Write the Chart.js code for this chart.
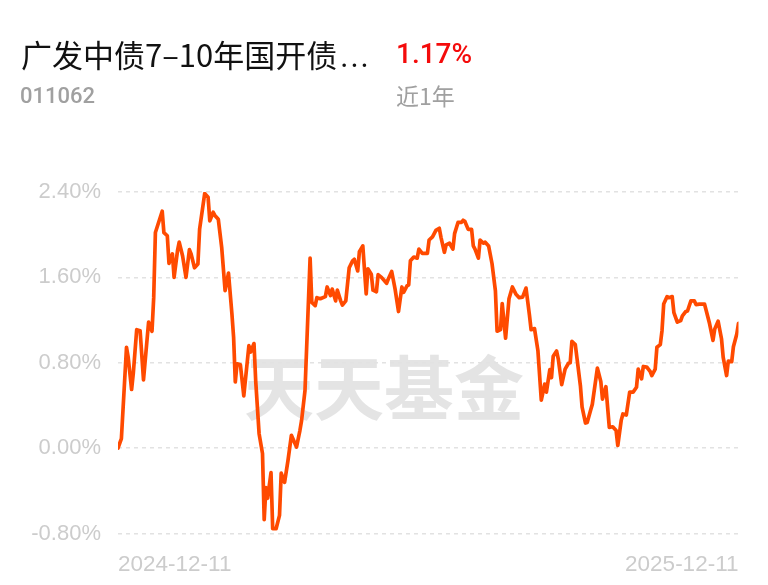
<!DOCTYPE html>
<html>
<head>
<meta charset="utf-8">
<script src="https://cdn.jsdelivr.net/npm/chart.js@4"></script>
<style>
  html, body { margin: 0; padding: 0; background: #fff; }
  body { width: 768px; height: 585px; position: relative; overflow: hidden; font-family: "Noto Sans CJK SC", "Noto Sans", sans-serif; }
  #wm { position: absolute; left: 244px; top: 350px; font-size: 70px; font-weight: 700; color: #e4e4e4; z-index: 0; line-height: 1; font-family: "Noto Sans CJK SC", sans-serif; white-space: nowrap; }
  #wrap { position: absolute; left: 0; top: 0; width: 768px; height: 585px; z-index: 1; }
  .t { position: absolute; white-space: nowrap; line-height: 1; z-index: 2; }
  #name { left: 21px; top: 38px; font-size: 31px; color: #111; }
  #name .dots { margin-left: 3px; letter-spacing: 2px; font-family: "Roboto", sans-serif; }
  #ret { left: 396px; top: 40px; font-size: 28px; font-weight: 500; color: #f40b0b; font-family: "Roboto", "Noto Sans", sans-serif; }
  #code { left: 20px; top: 85px; font-size: 22px; font-weight: 500; color: #a0a0a0; font-family: "Roboto", "Noto Sans", sans-serif; }
  #per { left: 396px; top: 84px; font-size: 23px; color: #a0a0a0; }
</style>
</head>
<body>
<div id="wm">天天基金</div>
<div class="t" id="name">广发中债7–10年国开债<span class="dots">...</span></div>
<div class="t" id="ret">1.17%</div>
<div class="t" id="code">011062</div>
<div class="t" id="per">近1年</div>
<div id="wrap"><canvas id="c" width="768" height="585"></canvas></div>
<script>
// day offsets from 2024-12-11
const days = [0,2,5,6,8,9,11,13,15,18,20,21,22,26,27,29,30,32,33,35,36,38,40,42,43,45,47,48,51,53,54,56,57,59,61,63,65,67,68,69,70,72,74,77,78,80,81,83,85,86,87,88,90,91,93,95,96,98,100,102,105,107,108,110,113,114,116,117,
119,122,123,125,126,128,129,131,132,134,136,138,139,141,142,144,146,147,149,150,152,153,155,158,159,161,163,165,167,168,170,171,172,174,176,177,179,181,182,183,185,187,189,190,192,193,195,197,198,200,202,203,204,206,208,209,210,212,213,215,216,218,220,222,223,225,226,228,230,232,234,236,238,240,242,243,245,247,249,251,252,254,255,256,258,259,261,263,265,266,267,269,272,273,275,276,278,279,282,284,285,287,289,291,293,294,296,297,299,301,303,305,306,308,309,311,313,314,316,317,319,320,321,323,324,326,327,329,331,332,334,335,337,339,340,342,343,345,346,348,350,351,353,355,356,358,359,361,362,364,365];
// cumulative return (%)
const returns = [0.00,0.09,0.945,0.85,0.55,0.70,1.11,1.10,0.64,1.18,1.095,1.41,2.02,2.22,2.02,1.99,1.73,1.82,1.60,1.85,1.93,1.80,1.60,1.86,1.82,1.69,1.725,2.05,2.385,2.35,2.13,2.21,2.18,2.145,1.88,1.475,1.64,1.26,1.04,0.62,0.79,0.78,0.49,0.96,0.90,0.98,0.63,0.135,-0.05,-0.67,-0.37,-0.47,-0.23,-0.755,-0.755,-0.63,-0.235,-0.32,-0.115,0.12,0.01,0.165,0.26,0.54,1.78,1.365,1.335,1.41,
1.40,1.42,1.51,1.43,1.49,1.38,1.48,1.38,1.34,1.38,1.69,1.755,1.77,1.66,1.84,1.895,1.445,1.68,1.63,1.48,1.465,1.625,1.60,1.545,1.585,1.655,1.49,1.28,1.51,1.46,1.52,1.53,1.755,1.79,1.78,1.865,1.825,1.825,1.825,1.95,1.98,2.04,2.06,1.975,1.835,1.905,1.92,1.865,2.01,2.115,2.115,2.135,2.125,2.05,2.05,1.895,1.865,1.78,1.95,1.92,1.93,1.895,1.73,1.475,1.095,1.11,1.355,1.03,1.40,1.51,1.445,1.41,1.415,1.50,1.25,1.11,1.12,0.915,0.45,0.60,0.525,0.735,0.66,0.86,0.91,0.835,0.595,0.74,0.795,0.80,1.00,0.97,0.585,0.385,0.235,0.24,0.355,0.41,0.75,0.625,0.46,0.575,0.195,0.20,0.165,0.025,0.26,0.32,0.31,0.525,0.525,0.57,0.74,0.65,0.765,0.76,0.72,0.68,0.74,0.945,0.97,1.10,1.35,1.42,1.41,1.42,1.27,1.18,1.195,1.24,1.28,1.285,1.38,1.38,1.345,1.35,1.35,1.35,1.29,1.165,1.01,1.115,1.19,1.025,0.85,0.68,0.815,0.81,0.95,1.07,1.17];
const xTickLabels = ['2024-12-11', '2025-12-11'];
const xTickDays = [0, 365];
const yTicks = [-0.8, 0, 0.8, 1.6, 2.4];

const points = days.map((d, i) => ({ x: d, y: returns[i] }));

new Chart(document.getElementById('c'), {
  type: 'line',
  data: {
    datasets: [{
      data: points,
      borderColor: '#ff4a00',
      borderWidth: 3.7,
      pointRadius: 0,
      tension: 0,
      fill: false,
      borderJoinStyle: 'round',
      borderCapStyle: 'round'
    }]
  },
  options: {
    responsive: false,
    animation: false,
    events: [],
    layout: { padding: { left: 0, right: 29.5, top: 192, bottom: 0 } },
    plugins: { legend: { display: false }, tooltip: { enabled: false } },
    scales: {
      x: {
        type: 'linear',
        min: xTickDays[0],
        max: xTickDays[xTickDays.length - 1],
        afterBuildTicks: (s) => { s.ticks = xTickDays.map(v => ({ value: v })); },
        afterFit: (s) => { s.height = 51.5; },
        grid: { display: false },
        border: { display: false },
        ticks: {
          align: 'inner',
          maxRotation: 0,
          padding: 10,
          color: '#cccccc',
          font: { family: 'Liberation Sans', size: 22.5 },
          callback: (v) => xTickLabels[xTickDays.indexOf(v)]
        }
      },
      y: {
        min: yTicks[0],
        max: yTicks[yTicks.length - 1],
        afterBuildTicks: (s) => { s.ticks = yTicks.map(v => ({ value: v })); },
        afterFit: (s) => { s.width = 118; },
        grid: { color: '#e2e2e2', lineWidth: 1.5, drawTicks: false },
        border: { display: false, dash: [4, 4] },
        ticks: {
          padding: 17,
          color: '#cccccc',
          font: { family: 'Liberation Sans', size: 22 },
          callback: (v) => v.toFixed(2) + '%'
        }
      }
    }
  }
});
</script>
</body>
</html>
